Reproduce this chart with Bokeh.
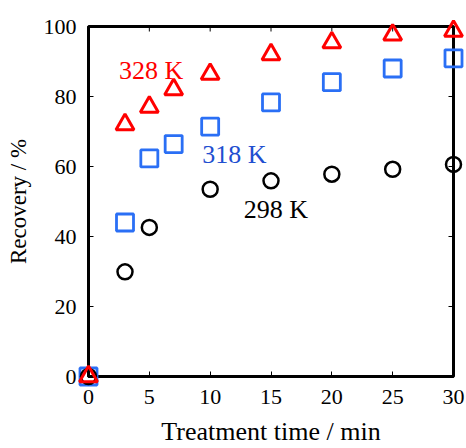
import math
from bokeh.plotting import figure
from bokeh.models import Range1d, FixedTicker, Label
from bokeh.embed import file_html
from bokeh.resources import INLINE

# data
t_328 = [0, 3, 5, 7, 10, 15, 20, 25, 30]
r_328 = [0, 72, 77, 82, 86.4, 92, 95.4, 97.6, 98.7]
t_318 = [0, 3, 5, 7, 10, 15, 20, 25, 30]
r_318 = [0, 44, 62.3, 66.4, 71.4, 78.3, 84.1, 88.0, 90.9]
t_298 = [0, 3, 5, 10, 15, 20, 25, 30]
r_298 = [0, 29.9, 42.6, 53.5, 55.9, 57.8, 59.2, 60.6]
x_ticks = [0, 5, 10, 15, 20, 25, 30]
y_ticks = [0, 20, 40, 60, 80, 100]

FONT = "Liberation Serif"
RED = "#ff0000"
BLUE = "#2a6ff5"
BLUE_TXT = "#1f4fd0"

p = figure(width=466, height=448, output_backend="svg", toolbar_location=None,
           x_range=Range1d(0, 30), y_range=Range1d(0, 100),
           min_border_left=88, min_border_right=13, min_border_top=26, min_border_bottom=71)
p.grid.visible = False
p.background_fill_color = "white"
p.border_fill_color = "white"
p.outline_line_color = "black"
p.outline_line_width = 3
p.outline_line_alpha = 1

for ax, ticks in ((p.xaxis[0], x_ticks), (p.yaxis[0], y_ticks)):
    ax.ticker = FixedTicker(ticks=ticks)
    ax.minor_tick_line_color = None
    ax.major_tick_in = 5
    ax.major_tick_out = 0
    ax.major_tick_line_width = 1
    ax.axis_line_width = 3
    ax.major_label_text_font = FONT
    ax.major_label_text_font_size = "22px"
    ax.major_label_text_color = "black"
    ax.axis_label_text_font = FONT
    ax.axis_label_text_font_style = "normal"
    ax.axis_label_text_color = "black"

p.xaxis.axis_label = "Treatment time / min"
p.yaxis.axis_label = "Recovery / %"
p.xaxis.axis_label_text_font_size = "26px"
p.yaxis.axis_label_text_font_size = "23px"
p.xaxis.major_label_standoff = 13
p.yaxis.major_label_standoff = 12
p.xaxis.axis_label_standoff = 10
p.yaxis.axis_label_standoff = 10

# inner ticks on the top and right edges (half of each dash is clipped by the frame)
p.scatter(x_ticks, [100] * len(x_ticks), marker="dash", size=10, angle=math.pi / 2,
          line_color="black", line_width=1)
p.scatter([30] * len(y_ticks), y_ticks, marker="dash", size=10,
          line_color="black", line_width=1)

r1 = p.scatter(t_318, r_318, marker="square", size=17, fill_color=None,
               line_color=BLUE, line_width=2.8)
r2 = p.scatter(t_298, r_298, marker="circle", size=15, fill_color=None,
               line_color="black", line_width=2.5)
r3 = p.scatter(t_328, r_328, marker="triangle", size=18, fill_color=None,
               line_color=RED, line_width=3)
for r in (r1, r2, r3):
    r.level = "overlay"

for txt, x, y, c in (("328 K", 5.15, 87.3, RED), ("318 K", 12.0, 63.3, BLUE_TXT),
                     ("298 K", 15.4, 47.6, "black")):
    p.add_layout(Label(x=x, y=y, text=txt, text_font=FONT, text_font_size="26px",
                       text_color=c, text_align="center", text_baseline="middle"))

open("out.html", "w").write(file_html(p, INLINE))
